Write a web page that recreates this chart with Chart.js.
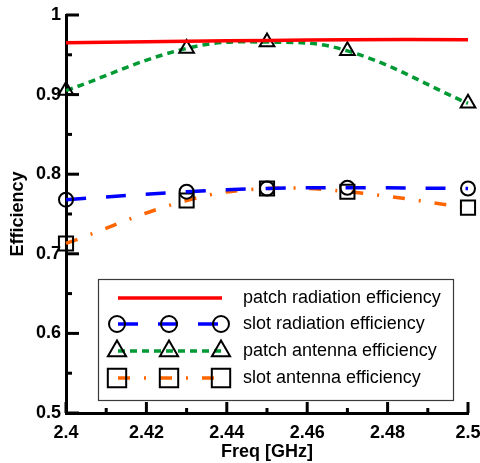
<!DOCTYPE html>
<html>
<head>
<meta charset="utf-8">
<script src="https://cdn.jsdelivr.net/npm/chart.js@4.4.0/dist/chart.umd.min.js"></script>
<style>
  html, body { margin: 0; padding: 0; background: #fff; }
  #wrap { width: 480px; height: 463px; }
</style>
</head>
<body>
<div id="wrap"><canvas id="results" width="480" height="463"></canvas></div>
<script>
const ctx = document.getElementById("results");

// values
const freq = [2.4, 2.43, 2.45, 2.47, 2.5];
const patchRadiation = [0.965, 0.967, 0.968, 0.969, 0.969];
const slotRadiation = [0.768, 0.778, 0.782, 0.783, 0.782];
const patchAntenna = [0.905, 0.958, 0.966, 0.955, 0.889];
const slotAntenna = [0.713, 0.767, 0.782, 0.778, 0.758];
const seriesNames = [
  "patch radiation efficiency",
  "slot radiation efficiency",
  "patch antenna efficiency",
  "slot antenna efficiency",
];

const FONT = "'Liberation Sans', Arial, sans-serif";

function points(values) {
  return freq.map((x, i) => ({ x: x, y: values[i] }));
}

function marker(style, radius) {
  return {
    pointStyle: style,
    pointRadius: radius,
    pointHoverRadius: radius,
    pointBorderColor: "#000",
    pointBackgroundColor: "rgba(0,0,0,0)",
    pointBorderWidth: 2,
    pointHoverBorderWidth: 2,
  };
}

const datasets = [
  {
    label: seriesNames[0],
    data: points(patchRadiation),
    borderColor: "#ff0000",
    borderWidth: 3.5,
    pointRadius: 0,
    pointHoverRadius: 0,
  },
  Object.assign({
    label: seriesNames[1],
    data: points(slotRadiation),
    borderColor: "#0000ff",
    borderWidth: 3.5,
    borderDash: [20, 20],
    legendRadius: 8,
  }, marker("circle", 7)),
  Object.assign({
    label: seriesNames[2],
    data: points(patchAntenna),
    borderColor: "#009933",
    borderWidth: 3.5,
    borderDash: [7, 5],
    legendRadius: 10.5,
  }, marker("triangle", 8.5)),
  Object.assign({
    label: seriesNames[3],
    data: points(slotAntenna),
    borderColor: "#ff6600",
    borderWidth: 3.5,
    borderDash: [12, 14, 2, 14],
    legendRadius: 13,
  }, marker("rect", 10)),
].map((d) => Object.assign({ tension: 0.4, fill: false, clip: false }, d));

// inward major/minor ticks like the original plot
const axisTicks = {
  id: "axisTicks",
  afterDraw(chart) {
    const c = chart.ctx;
    const a = chart.chartArea;
    const xs = chart.scales.x;
    const ys = chart.scales.y;
    c.save();
    c.strokeStyle = "#000";
    c.lineWidth = 3;
    const seg = (x1, y1, x2, y2) => {
      c.beginPath();
      c.moveTo(x1, y1);
      c.lineTo(x2, y2);
      c.stroke();
    };
    ys.ticks.forEach((t, i) => {
      const py = ys.getPixelForValue(t.value);
      seg(a.left, py, a.left + 13, py);
      if (i < ys.ticks.length - 1) {
        const pm = ys.getPixelForValue((t.value + ys.ticks[i + 1].value) / 2);
        seg(a.left, pm, a.left + 6, pm);
      }
    });
    xs.ticks.forEach((t, i) => {
      const px = xs.getPixelForValue(t.value);
      seg(px, a.bottom, px, a.bottom - 11);
      if (i < xs.ticks.length - 1) {
        const pm = xs.getPixelForValue((t.value + xs.ticks[i + 1].value) / 2);
        seg(pm, a.bottom, pm, a.bottom - 5);
      }
    });
    c.restore();
  },
};

// boxed legend with three markers per row
const boxLegend = {
  id: "boxLegend",
  afterDraw(chart) {
    const c = chart.ctx;
    const box = { x: 98.5, y: 279.5, w: 355, h: 121 };
    const rowY = [298, 324, 351, 378];
    const lineX1 = 118;
    const lineX2 = 222;
    const markX = [117, 169, 221];
    c.save();
    c.fillStyle = "#fff";
    c.fillRect(box.x, box.y, box.w, box.h);
    c.strokeStyle = "#3a3a3a";
    c.lineWidth = 1.2;
    c.strokeRect(box.x, box.y, box.w, box.h);

    chart.data.datasets.forEach((d, i) => {
      const y = rowY[i];
      c.save();
      c.strokeStyle = d.borderColor;
      c.lineWidth = d.borderWidth;
      c.setLineDash(d.borderDash || []);
      c.beginPath();
      c.moveTo(lineX1, y);
      c.lineTo(lineX2, y);
      c.stroke();
      c.restore();

      if (d.pointRadius) {
        c.strokeStyle = "#000";
        c.fillStyle = "rgba(0,0,0,0)";
        c.lineWidth = 2;
        markX.forEach((mx) => {
          Chart.helpers.drawPoint(c, {
            pointStyle: d.pointStyle,
            radius: d.legendRadius,
            rotation: 0,
            borderWidth: 2,
          }, mx, y);
        });
      }

      c.fillStyle = "#000";
      c.font = "18px " + FONT;
      c.textBaseline = "middle";
      c.textAlign = "left";
      c.fillText(d.label, 243, y);
    });
    c.restore();
  },
};

new Chart(ctx, {
  type: "line",
  data: { datasets },
  plugins: [axisTicks, boxLegend],
  options: {
    responsive: false,
    animation: false,
    events: [],
    layout: { padding: { top: 15, right: 12, left: 0, bottom: 0 } },
    plugins: {
      legend: { display: false },
      tooltip: { enabled: false },
    },
    scales: {
      x: {
        type: "linear",
        min: 2.4,
        max: 2.5,
        afterFit: (scale) => {
          scale.height = 50;
          scale.paddingLeft = 0;
          scale.paddingRight = 0;
        },
        grid: { display: false, drawTicks: false },
        border: { display: true, color: "#000", width: 3 },
        ticks: {
          stepSize: 0.02,
          padding: 9,
          maxRotation: 0,
          color: "#000",
          font: { family: FONT, size: 18, weight: "bold" },
          callback: (v) => String(Number(v.toFixed(2))),
        },
        title: {
          display: true,
          text: "Freq [GHz]",
          color: "#000",
          padding: 0,
          font: { family: FONT, size: 18, weight: "bold" },
        },
      },
      y: {
        min: 0.5,
        max: 1,
        afterFit: (scale) => {
          scale.width = 66;
          scale.paddingTop = 0;
          scale.paddingBottom = 0;
        },
        grid: { display: false, drawTicks: false },
        border: { display: true, color: "#000", width: 3 },
        ticks: {
          stepSize: 0.1,
          padding: 5,
          color: "#000",
          font: { family: FONT, size: 18, weight: "bold" },
          callback: (v) => String(Number(v.toFixed(2))),
        },
        title: {
          display: true,
          text: "Efficiency",
          color: "#000",
          padding: { top: 7, bottom: 0 },
          font: { family: FONT, size: 18, weight: "bold" },
        },
      },
    },
  },
});
</script>
</body>
</html>
